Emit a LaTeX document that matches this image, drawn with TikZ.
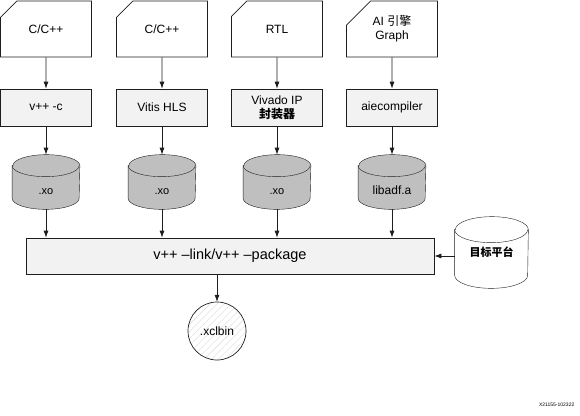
\documentclass[tikz,border=0pt]{standalone}
\usepackage{fontspec}
\setmainfont{Liberation Sans}
\newfontfamily\cjk{Noto Sans CJK SC}
\usepackage{tikz}
\usetikzlibrary{arrows.meta,positioning,shapes.misc,patterns.meta,backgrounds}
\definecolor{boxgray}{RGB}{242,242,242}
\definecolor{cylgray}{RGB}{191,191,191}
\definecolor{linegray}{RGB}{30,30,30}

\begin{document}
\begin{tikzpicture}[x=1pt,y=-1pt,line width=0.7pt,
  src/.style={draw=linegray,chamfered rectangle,chamfered rectangle corners=north west,
    chamfered rectangle xsep=12pt,chamfered rectangle ysep=12pt,
    minimum width=91pt,minimum height=56pt,inner sep=0pt,align=center,font=\fontsize{12}{14}\selectfont},
  tool/.style={draw=linegray,fill=boxgray,minimum width=91pt,minimum height=37pt,inner sep=0pt,
    align=center,font=\fontsize{12}{14}\selectfont},
  obj/.style={minimum width=67pt,minimum height=54pt,inner sep=0pt,text height=25pt,text depth=0pt,
    font=\fontsize{11}{13}\selectfont},
  arr/.style={-{Latex[length=7pt,width=5pt]},draw=linegray}
]
\useasboundingbox (0,0) rectangle (580,415);
% sources
\node[src] (s1) at (46,29) {C/C++};
\node[src] (s2) at (162,29) {C/C++};
\node[src] (s3) at (277,29) {RTL};
\node[src] (s4) at (392,29) {AI {\cjk 引擎}\\Graph};
% compilers
\node[tool] (t1) at (46,107.5) {v++ -c};
\node[tool] (t2) at (162,107.5) {Vitis HLS};
\node[tool] (t3) at (277,107.5) {Vivado IP\\{\cjk\bfseries 封装器}};
\node[tool] (t4) at (392,107.5) {aiecompiler};
% objects
\node[obj] (o1) at (46,182) {.xo};
\node[obj] (o2) at (162,182) {.xo};
\node[obj] (o3) at (277,182) {.xo};
\node[obj,font=\fontsize{12}{14}\selectfont] (o4) at (392,182) {libadf.a};
% link
\node[tool,minimum width=408pt,minimum height=36pt,font=\fontsize{14.5}{17}\selectfont] (lnk) at (230,256) {v++ --link/v++ --package};
\node[obj,minimum width=73pt,minimum height=71pt,text height=,text depth=,
  font=\cjk\fontsize{11}{13}\selectfont\bfseries] (plat) at (491.5,252.5) {目标平台};
\node[draw=linegray,circle,minimum size=58pt,inner sep=0pt,
  pattern={Lines[angle=45,distance=5pt,line width=0.4pt]},pattern color=black!15,
  font=\fontsize{12}{14}\selectfont] (xcl) at (217,331) {.xclbin};
\node[font=\fontsize{5}{6}\selectfont,anchor=east] (id) at (578,405) {X21155-102322};
% drums behind the object nodes
\begin{scope}[on background layer]
\foreach \n/\c/\rx/\ry in {o1/cylgray/33.5/11,o2/cylgray/33.5/11,o3/cylgray/33.5/11,o4/cylgray/33.5/11,plat/white/36.5/13} {
  \draw[draw=linegray,fill=\c] ([yshift=-\ry pt]\n.north west) -- ([yshift=\ry pt]\n.south west)
    arc[start angle=180,end angle=360,x radius=\rx pt,y radius=\ry pt]
    -- ([yshift=-\ry pt]\n.north east)
    arc[start angle=0,end angle=180,x radius=\rx pt,y radius=\ry pt] -- cycle;
  \draw[draw=linegray] ([yshift=-\ry pt]\n.north west)
    arc[start angle=180,end angle=360,x radius=\rx pt,y radius=\ry pt];
}
\end{scope}
\foreach \i in {1,2,3,4} {
  \draw[arr] (s\i) -- (t\i);
  \draw[arr] (t\i) -- (o\i);
  \draw[arr] (o\i) -- (o\i |- lnk.north);
}
\draw[arr] (plat.west |- lnk) -- (lnk.east);
\draw[arr] (lnk.south -| xcl) -- (xcl);
\end{tikzpicture}
\end{document}
